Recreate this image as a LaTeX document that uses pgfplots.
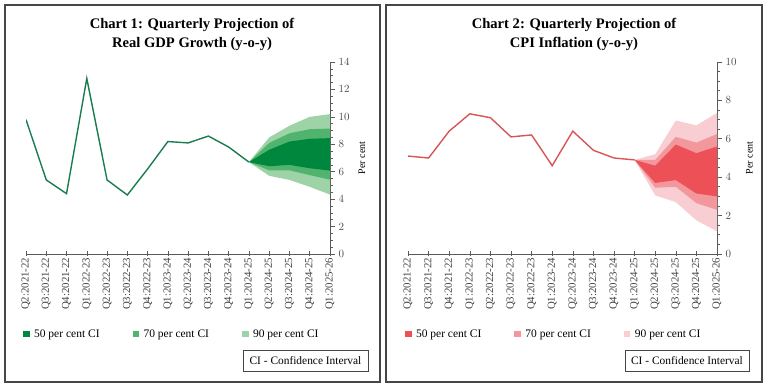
\documentclass[border=0pt]{standalone}
\usepackage{pgfplots}
\pgfplotsset{compat=1.18}
\usepackage{pgfplotstable}
\usepackage{fontspec}
\setmainfont{Liberation Serif}
\setsansfont{Liberation Sans}

\definecolor{frame}{RGB}{70,70,70}
\definecolor{axisgray}{RGB}{90,90,90}
\definecolor{gline}{RGB}{25,125,80}
\definecolor{g50}{RGB}{0,135,62}
\definecolor{g70}{RGB}{80,180,110}
\definecolor{g90}{RGB}{158,211,168}
\definecolor{rline}{RGB}{215,85,85}
\definecolor{r50}{RGB}{237,80,87}
\definecolor{r70}{RGB}{242,152,157}
\definecolor{r90}{RGB}{248,206,211}

\pgfplotstableread{
x y
0 9.8
1 5.4
2 4.4
3 12.8
4 5.4
5 4.3
6 6.2
7 8.2
8 8.1
9 8.6
10 7.8
11 6.7
}\gdphist

% band polygons: upper edge forward, lower edge backward
\pgfplotstableread{
x y
11 6.7
12 8.5
13 9.35
14 10.0
15 10.2
15 4.33
14 4.9
13 5.4
12 5.7
11 6.7
}\gdpninety
\pgfplotstableread{
x y
11 6.7
12 8.1
13 8.8
14 9.1
15 9.15
15 5.42
14 5.75
13 6.1
12 6.1
11 6.7
}\gdpseventy
\pgfplotstableread{
x y
11 6.7
12 7.6
13 8.2
14 8.4
15 8.45
15 6.08
14 6.25
13 6.5
12 6.4
11 6.7
}\gdpfifty

\pgfplotstableread{
x y
0 5.1
1 5.0
2 6.4
3 7.3
4 7.1
5 6.1
6 6.2
7 4.6
8 6.4
9 5.4
10 5.0
11 4.9
}\cpihist

\pgfplotstableread{
x y
11 4.9
12 5.2
13 6.95
14 6.7
15 7.35
15 1.18
14 1.75
13 2.7
12 3.05
11 4.9
}\cpininety
\pgfplotstableread{
x y
11 4.9
12 4.9
13 6.1
14 5.8
15 6.25
15 2.3
14 2.65
13 3.5
12 3.45
11 4.9
}\cpiseventy
\pgfplotstableread{
x y
11 4.9
12 4.6
13 5.7
14 5.25
15 5.6
15 3.0
14 3.15
13 3.85
12 3.7
11 4.9
}\cpififty

\pgfplotsset{
  panel/.style={
    scale only axis,
    anchor=south west,
    height=192pt,
    xmin=0, xmax=15,
    ymin=0,
    axis x line*=bottom,
    axis y line*=right,
    axis line style={axisgray, line width=0.6pt},
    xtick={0,...,15},
    xticklabels={Q2:2021-22,Q3:2021-22,Q4:2021-22,Q1:2022-23,Q2:2022-23,Q3:2022-23,Q4:2022-23,Q1:2023-24,Q2:2023-24,Q3:2023-24,Q4:2023-24,Q1:2024-25,Q2:2024-25,Q3:2024-25,Q4:2024-25,Q1:2025-26},
    xticklabel style={rotate=90, anchor=east, font=\fontsize{10.8}{12}\selectfont, text=black!75, inner sep=1pt},
    xtick align=center,
    ytick align=outside,
    major tick length=5pt,
    minor tick length=3pt,
    tick style={axisgray, line width=0.6pt},
    minor y tick num=3,
    yticklabel style={font=\sffamily\fontsize{10.5}{12}\selectfont, text=black!70},
    ylabel={Per cent},
    ylabel style={font=\sffamily\fontsize{10}{11}\selectfont, text=black!70},
    every axis y label/.style={at={(axis description cs:1.105,0.5)}, rotate=90, anchor=center},
    legend columns=3,
    legend style={draw=none, fill=none, anchor=west, at={(axis description cs:-0.02,-0.417)},
      font=\fontsize{11.5}{13}\selectfont,
      /tikz/every even column/.append style={column sep=31pt}},
    legend cell align=left,
    legend image code/.code={\path (0pt,0pt) -- (9pt,0pt); \fill[#1] (0pt,-3.2pt) rectangle (6.5pt,3.3pt);},
  }
}

\begin{document}
\begin{tikzpicture}
\path[use as bounding box] (0pt,0pt) rectangle (768pt,388pt);
\draw[line width=2pt, frame] (5pt,6pt) rectangle (380pt,383pt);
\draw[line width=2pt, frame] (386pt,6pt) rectangle (762pt,383pt);

\node[font=\bfseries\fontsize{14.6}{16}\selectfont] at (192pt,363pt) {Chart 1: Quarterly Projection of};
\node[font=\bfseries\fontsize{14.6}{16}\selectfont] at (192pt,344pt) {Real GDP Growth (y-o-y)};
\node[font=\bfseries\fontsize{14.6}{16}\selectfont] at (574pt,363pt) {Chart 2: Quarterly Projection of};
\node[font=\bfseries\fontsize{14.6}{16}\selectfont] at (574pt,344pt) {CPI Inflation (y-o-y)};

\node[draw=frame, line width=0.7pt, minimum width=125pt, minimum height=21pt, inner sep=0pt, font=\fontsize{11.4}{13}\selectfont] at (305.5pt,27.5pt) {CI - Confidence Interval};
\node[draw=frame, line width=0.7pt, minimum width=124pt, minimum height=21pt, inner sep=0pt, font=\fontsize{11.4}{13}\selectfont] at (687pt,27.5pt) {CI - Confidence Interval};

\begin{axis}[panel, at={(26pt,134pt)}, width=304pt, ymax=14, ytick={0,2,...,14}]
\addplot[fill=g90, draw=none, forget plot] table[x=x,y=y]{\gdpninety};
\addplot[fill=g70, draw=none, forget plot] table[x=x,y=y]{\gdpseventy};
\addplot[fill=g50, draw=none, forget plot] table[x=x,y=y]{\gdpfifty};
\addplot[gline, line width=1.4pt, forget plot] table[x=x,y=y]{\gdphist};
\addlegendimage{fill=g50, draw=none}
\addlegendentry{50 per cent CI}
\addlegendimage{fill=g70, draw=none}
\addlegendentry{70 per cent CI}
\addlegendimage{fill=g90, draw=none}
\addlegendentry{90 per cent CI}
\end{axis}

\begin{axis}[panel, at={(408pt,134pt)}, width=309pt, ymax=10, ytick={0,2,...,10}]
\addplot[fill=r90, draw=none, forget plot] table[x=x,y=y]{\cpininety};
\addplot[fill=r70, draw=none, forget plot] table[x=x,y=y]{\cpiseventy};
\addplot[fill=r50, draw=none, forget plot] table[x=x,y=y]{\cpififty};
\addplot[rline, line width=1.4pt, forget plot] table[x=x,y=y]{\cpihist};
\addlegendimage{fill=r50, draw=none}
\addlegendentry{50 per cent CI}
\addlegendimage{fill=r70, draw=none}
\addlegendentry{70 per cent CI}
\addlegendimage{fill=r90, draw=none}
\addlegendentry{90 per cent CI}
\end{axis}
\end{tikzpicture}
\end{document}
